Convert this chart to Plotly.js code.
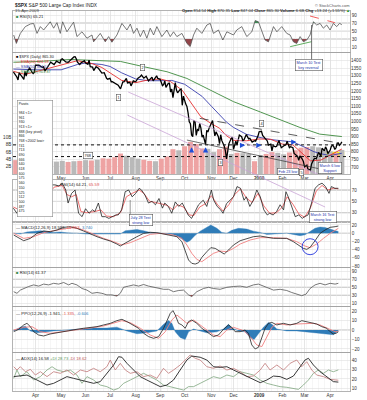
<!DOCTYPE html>
<html><head><meta charset="utf-8">
<script src="https://cdn.plot.ly/plotly-3.0.1.min.js"></script>
<style>html,body{margin:0;padding:0;background:#fff}#chart{width:367px;height:400px}</style>
</head><body><div id="chart"></div>
<script>
// ---------- DATA (x = trading-day index, 0 = 4-Mar-2008) ----------
const monthTicks = [19,41,62,83,105,126,147,170,189,211,231,250,272];
const monthLabels = ['Apr','May','Jun','Jul','Aug','Sep','Oct','Nov','Dec','<b>2009</b>','Feb','Mar','Apr'];

const spxClose = [[0,1326],[2,1304],[3,1293],[4,1273],[5,1320],[8,1288],[9,1276],[10,1330],[11,1299],[12,1330],[14,1352],[16,1325],[17,1316],[18,1323],[19,1370],[22,1370],[25,1355],[26,1360],[27,1332],[30,1365],[32,1390],[35,1375],[37,1397],[40,1385],[41,1409],[42,1413],[43,1407],[45,1392],[47,1389],[49,1404],[51,1423],[52,1425],[53,1426],[54,1413],[55,1390],[57,1375],[58,1385],[61,1400],[62,1385],[64,1377],[65,1404],[66,1361],[68,1358],[69,1335],[71,1360],[73,1350],[76,1318],[78,1321],[80,1284],[81,1278],[83,1284],[84,1261],[85,1262],[87,1252],[89,1245],[90,1239],[92,1214],[93,1246],[94,1261],[95,1261],[97,1283],[98,1253],[100,1257],[101,1234],[103,1267],[105,1261],[107,1285],[109,1296],[110,1305],[112,1285],[114,1298],[116,1267],[119,1292],[120,1267],[123,1300],[124,1283],[126,1277],[128,1236],[129,1242],[130,1267],[131,1224],[133,1251],[134,1252],[135,1193],[136,1213],[137,1157],[138,1207],[139,1255],[140,1207],[141,1188],[143,1209],[144,1213],[145,1106],[146,1166],[148,1114],[149,1099],[150,1056],[151,997],[152,985],[153,910],[154,899],[155,1003],[156,998],[157,908],[158,946],[159,941],[160,986],[161,955],[162,896],[163,909],[164,877],[165,848],[166,941],[167,930],[168,954],[169,969],[171,1006],[172,953],[173,905],[174,931],[176,899],[177,853],[178,912],[179,873],[181,838],[182,807],[183,752],[184,800],[185,852],[187,887],[188,896],[189,816],[191,870],[192,845],[193,876],[194,910],[196,899],[197,873],[198,879],[200,913],[202,885],[203,888],[205,863],[207,873],[208,870],[210,903],[211,932],[213,935],[214,907],[216,890],[218,871],[219,843],[221,850],[222,805],[223,840],[225,832],[226,836],[228,874],[229,845],[230,826],[232,838],[234,845],[235,869],[237,827],[238,833],[240,826],[241,789],[243,780],[244,770],[245,743],[246,773],[248,752],[249,735],[250,700],[252,712],[253,682],[254,683],[255,677],[256,720],[258,751],[259,757],[260,753],[261,778],[262,795],[263,784],[264,768],[265,823],[267,806],[268,832],[269,816],[270,788],[271,798],[272,811],[273,835],[274,843],[275,835],[276,815],[277,826],[278,857],[279,858],[280,842],[281,852],[282,865]];

const ema20 = [[0,1330],[10,1310],[23,1335],[40,1370],[55,1400],[68,1380],[76,1355],[83,1320],[93,1270],[105,1255],[115,1272],[126,1280],[135,1262],[145,1205],[151,1140],[156,1080],[161,1030],[170,985],[177,955],[183,905],[189,875],[200,872],[211,884],[221,882],[231,850],[240,845],[246,805],[250,775],[255,740],[264,745],[272,775],[282,818]];
const sma50 = [[0,1345],[19,1340],[41,1340],[55,1375],[62,1385],[76,1375],[83,1362],[93,1320],[105,1280],[116,1268],[126,1268],[136,1270],[147,1245],[155,1205],[162,1165],[170,1100],[177,1040],[183,995],[189,960],[200,915],[211,895],[221,880],[231,872],[240,865],[250,830],[258,800],[265,785],[272,775],[282,790]];
const sma200 = [[0,1390],[22,1395],[49,1408],[75,1402],[92,1395],[111,1362],[132,1327],[149,1283],[166,1217],[189,1130],[212,1062],[231,1005],[246,960],[263,916],[282,900]];

const volDay = [2,7,12,17,22,27,32,37,42,47,52,57,62,67,72,77,82,87,92,97,102,107,112,117,122,127,132,137,142,147,152,157,162,167,172,177,182,187,192,197,202,207,212,217,222,227,232,237,242,247,252,257,262,267,272,277,282];
const volBillions = [3.8,4.2,3.6,3.9,3.7,3.5,3.6,3.4,3.6,3.3,3.5,3.6,3.8,3.7,3.9,4.3,4.2,4.6,5.6,5.0,4.6,4.2,3.9,3.6,3.5,4.2,4.8,6.8,6.5,7.6,8.8,8.2,7.0,6.9,6.0,6.8,7.5,5.5,5.8,5.7,5.5,3.5,5.2,5.5,6.0,5.8,5.4,5.9,6.5,7.2,7.4,7.6,7.3,6.5,6.2,5.8,6.6];
const volDir = ['d','d','u','d','u','d','u','u','u','d','u','d','u','d','u','d','d','d','d','u','u','u','d','d','u','d','d','d','u','d','d','d','d','u','u','d','d','u','d','u','u','d','u','d','d','u','u','d','d','d','d','u','u','u','u','d','u'];

const rsiFast = [[0.3,40],[2.6,19],[6,44],[10.3,61],[14.6,67.5],[17.4,69],[20.3,44],[23.2,61],[26,52.5],[31.7,73],[34.6,57],[37.4,71],[40.3,44],[42.3,73],[46,48],[51.7,72],[54.6,36],[58.9,48],[63.2,32],[67.5,40],[68.9,23],[74.6,44],[78.9,23],[81.8,36],[84.6,22],[88.9,40],[93.2,69],[97.5,52.5],[100.4,67.5],[103.2,44],[106.1,57],[109,36],[111.8,52.5],[114.6,32],[117.5,57],[120.4,40],[123.2,61],[127.5,36],[131.8,52.5],[134.7,36],[137.5,48],[140.4,36],[144.7,44],[149,19],[151.8,11],[154.7,40],[157.5,57],[161.8,44],[166.1,65],[169,69],[171.8,44],[176.1,52.5],[179.8,27.5],[183.3,48],[189,40],[191.8,52.5],[196.1,61],[200.4,36],[204.7,48],[207.6,76],[210.4,73],[213.3,48],[216.1,27.5],[219,23],[223.3,61],[226.2,48],[230.4,61],[234.7,44],[237.6,40],[240.4,23],[243.3,19],[246.2,36],[249,23],[251.9,27.5],[254.7,40],[257.6,73],[260.4,65],[263.3,69],[266.1,57],[269,65],[271.9,52.5],[274.7,69],[277.6,61],[280,69],[282,66]];

const rsi14 = [[0,38],[3,29],[7,52],[12,58],[17,55],[23,52],[29,64],[33,79],[36,79],[39,77],[42,82],[45,70],[47,47],[50,64],[53,70],[56,29],[59,23],[62,37],[65,29],[68,35],[70,32],[73,47],[76,23],[79,23],[82,20],[85,23],[88,26],[90,26],[93,35],[96,67],[99,70],[102,58],[105,64],[108,73],[110,70],[113,61],[116,47],[119,50],[122,44],[125,55],[128,38],[130,47],[133,41],[136,29],[139,49],[142,41],[145,47],[148,35],[150,26],[153,20],[156,32],[159,44],[163,52],[166,41],[170,70],[172,52],[175,41],[178,35],[180,29],[183,46],[186,52],[189,58],[192,76],[195,73],[198,52],[200,58],[203,41],[206,52],[209,70],[212,58],[215,35],[218,26],[220,29],[223,26],[226,32],[229,44],[232,35],[234,67],[236,58],[239,41],[242,23],[245,26],[248,20],[250,23],[253,26],[256,47],[259,73],[262,79],[265,82],[268,76],[271,64],[273,76],[276,73],[279,73]];
const rsi14Avg = [[0,40],[5,35],[10,50],[20,55],[30,62],[35,75],[42,78],[46,62],[50,58],[54,62],[58,32],[63,30],[70,32],[75,35],[80,24],[86,23],[92,30],[97,58],[102,64],[108,70],[112,64],[117,50],[122,48],[127,45],[132,43],[137,35],[141,44],[146,40],[151,26],[155,25],[160,40],[165,46],[170,60],[175,45],[180,33],[185,44],[190,62],[195,72],[200,56],[205,48],[210,64],[215,42],[220,29],[226,30],[231,40],[235,58],[240,45],[245,28],[250,22],[255,38],[260,68],[265,78],[270,70],[275,73],[279,72]];

const macdLine = [[0.3,-4.4],[6,-12.6],[8.9,-18.3],[14.6,-12.6],[20.3,-0.4],[26,5.3],[31.7,3.7],[37.5,7.8],[43.2,14.3],[48.9,15.9],[54.6,11.8],[60.3,5.3],[66,-2],[71.8,-8.5],[77.5,-14.2],[83.2,-19.1],[88.9,-26.4],[91.8,-31.3],[94.6,-26.4],[100.4,-16.6],[106.1,-8.5],[111.8,-0.4],[117.5,2.1],[123.2,1.3],[128.9,-2],[134.7,-5.2],[140.4,-8.5],[144.7,-20.7],[147.5,-45.1],[150.4,-65.4],[153.2,-73.5],[156.1,-75.2],[159,-71.9],[161.8,-58.9],[166.1,-45.1],[169.5,-35.3],[173.3,-37],[177.5,-45.1],[181,-50.8],[184.7,-41],[189,-28.8],[194.7,-18.3],[200.4,-12.6],[206.1,-8.5],[211.9,-6.9],[217.6,-10.1],[223.3,-12.6],[229,-12.6],[234.7,-12.6],[240.4,-20.7],[244.7,-28.8],[249,-37],[251.9,-39.4],[254.7,-34.5],[259,-18.3],[263.3,-0.4],[267.6,7.8],[271.9,14.3],[276.2,15.9],[279,17.5]];
const macdSignal = [[0.3,-0.4],[8.9,-12.6],[17.4,-8.5],[26,1.3],[34.6,6.1],[43.2,11],[51.7,14.3],[60.3,7.8],[68.9,-2.8],[77.5,-12.6],[86.1,-20.7],[93.2,-28.8],[100.4,-23.1],[109,-12.6],[117.5,-2.8],[126.1,-0.4],[137.5,-4.4],[144.7,-12.6],[149,-28.8],[153.2,-49.1],[157.5,-63.8],[161.8,-69.5],[166.1,-61.3],[171.8,-49.1],[177.5,-43.5],[183.3,-45.1],[189,-37],[194.7,-26.4],[203.3,-16.6],[211.9,-10.9],[223.3,-10.9],[234.7,-12.6],[243.3,-20.7],[250.4,-31.3],[254.7,-35.3],[260.4,-26.4],[266.2,-12.6],[271.9,-0.4],[279,11.8]];
const macdHist = [[0.3,0],[6,-2],[11.7,3],[17.4,5],[23.2,6],[28.9,4],[34.6,2],[40.3,3],[46,1],[54.6,0],[63.2,-2],[74.6,-2],[86.1,-3],[91.8,-2],[96.1,6],[100.4,8],[106.1,9],[111.8,6],[117.5,2],[126.1,0],[134.7,-2],[140.4,-6],[144.7,-14],[149,-22],[151.8,-18],[156.1,-5],[160.4,5],[164.7,12],[169.5,20],[174.7,12],[179,2],[183.3,0],[187.5,7],[193.3,12],[200.4,10],[206.1,5],[211.9,2],[217.6,-3],[223.3,-2],[229,-1],[234.7,0],[240.4,-3],[246.2,-6],[250.4,-4],[254.7,3],[259,12],[263.3,15],[267.6,14],[271.9,10],[276.2,7],[279,4]];

const rsiLower = [[0.3,39],[3.1,35],[6,43],[8.9,47],[13.1,52],[17.4,56],[21.7,53],[26,58],[30.3,56],[34.6,60],[38.9,58],[43.2,62],[47.5,56],[50.3,60],[54.6,56],[58.9,47],[63.2,43],[67.5,35],[71.8,37],[76,35],[80.3,31],[84.6,31],[88.9,28],[91.8,35],[94.6,50],[98.9,53],[103.2,56],[107.5,53],[111.8,57],[116.1,53],[120.4,50],[124.7,47],[129,45],[133.2,45],[137.5,39],[141.8,42],[146.1,43],[150.4,31],[153.2,27],[157.5,39],[163.2,47],[167.5,50],[171.8,47],[177.5,45],[183.3,50],[189,52],[194.7,53],[200.4,50],[206.1,56],[210.4,58],[214.7,53],[219,47],[223.3,43],[229,45],[234.7,42],[239,37],[243.3,33],[247.6,29],[251.3,33],[254.7,47],[259,56],[263.3,60],[267.6,56],[271.9,60],[276.2,58],[279,60]];

const ppoLine = [[0.3,-1.8],[4.6,0.7],[8.9,5.3],[11.7,7],[14.6,3.5],[17.4,-1.8],[21.7,-5.3],[26,-6.3],[31.7,-4.2],[37.5,-2.8],[43.2,-1.8],[48.9,0],[54.6,0.7],[60.3,1.8],[66,2.8],[71.8,3.5],[77.5,5.3],[83.2,7],[88.9,9.8],[93.2,11.2],[97.5,8.8],[103.2,5.3],[107.5,1.8],[111.8,-3.5],[116.1,-7],[120.4,-8.8],[124.7,-7],[129,1.8],[131.8,10.5],[134.7,17.5],[137,20.4],[139,15.8],[141.8,7],[144.7,5.3],[147.5,1.8],[150.4,8.8],[153.2,10.5],[157.5,7],[161.8,1.8],[166.1,-1.8],[171.8,-7],[176.1,-5.3],[180.4,0.7],[184.7,5.3],[187.5,2.8],[190.4,-1.8],[194.7,-1.8],[199,0],[201.8,-3.5],[204.7,-15.8],[207.6,-20],[210.4,-18.2],[213.3,-8.8],[216.1,1.8],[219,7],[221.9,8],[226.2,5.3],[231.9,7],[237.6,5.3],[243.3,7],[247.6,9.8],[251.9,8.8],[256.2,7],[260.4,6.3],[264.7,3.5],[269,1.8],[271.9,-1.8],[274.7,-4.2],[277,-3.5],[279,-1.9]];
const ppoSignal = [[0.3,0],[8.9,2.8],[16,3.5],[23.2,-1.8],[31.7,-3.5],[43.2,-1.8],[54.6,0],[66,2.1],[77.5,4.2],[86.1,7.7],[93.2,9.8],[100.4,7.7],[109,1.8],[117.5,-5.3],[124.7,-8.8],[130.4,-1.8],[136.1,10.5],[140.4,15.8],[144.7,11.2],[149,7],[154.7,10.5],[160.4,5.3],[166.1,0],[171.8,-5.3],[177.5,-7],[183.3,0],[189,2.8],[197.6,-0.7],[203.3,-7],[209,-15.8],[213.3,-17.5],[217.6,-7],[221.9,2.8],[226.2,7],[234.7,5.3],[243.3,6.3],[250.4,7],[257.6,7],[263.3,5.3],[270.5,1.8],[276.2,-1.8],[279,-1.3]];
const ppoHist = [[0.3,-1],[6,3],[10.3,4],[14.6,-1],[20.3,-3],[26,-2],[34.6,-1],[46,0],[57.5,1],[68.9,2],[80.3,2],[88.9,3],[97.5,-1],[106.1,-4],[114.6,-3],[123.2,-1],[129,6],[133.2,10],[136.1,7],[139,-2],[143.2,-8],[147.5,-10],[150.4,-2],[154.7,1],[160.4,-1],[166.1,-3],[174.7,-2],[180.4,1],[184.7,6],[187.5,2],[193.3,-1],[199,-2],[203.3,-8],[206.7,-10],[210.4,-4],[214.7,3],[219,8],[221.9,6],[226.2,1],[234.7,-1],[243.3,-1],[251.9,-2],[260.4,-3],[269,-4],[274.7,-5],[277.6,-2],[279,-0.6]];

const adx = [[0.3,22.4],[6,23.1],[11.7,24.1],[17.4,20.6],[23.2,17.1],[28.9,13.5],[34.6,15.3],[40.3,18.8],[46,22.4],[51.7,20.6],[57.5,18.8],[63.2,17.1],[68.9,15.3],[74.6,17.1],[80.3,25.9],[86.1,34.7],[90.3,43.5],[93.2,42.9],[97.5,36.5],[103.2,29.4],[108.9,22.4],[114.6,18.8],[120.4,15.3],[126.1,11.8],[131.8,13.5],[137.5,18.8],[143.2,29.4],[149,40],[153.2,44.2],[157.5,43.5],[160.4,42.9],[166.1,40],[171.8,32.9],[177.5,32.2],[183.3,32.9],[189,29.4],[194.7,25.9],[200.4,22.4],[206.1,18.8],[211.9,16],[217.6,18.8],[223.3,23],[229,22.4],[234.7,19.5],[240.4,23],[246.2,32.9],[250.4,40],[253.3,41.8],[257.6,34.7],[263.3,27.6],[269,22.4],[274.7,17.1],[279,16.6]];
const minusDI = [[0.3,32.9],[3.1,29.4],[6,32.9],[10.3,27.6],[14.6,30.1],[18.9,24.1],[23.2,27.6],[28.9,22.4],[34.6,27.6],[40.3,25.9],[46,29.4],[51.7,24.1],[57.5,29.4],[63.2,27.6],[68.9,31.2],[74.6,27.6],[80.3,32.9],[83.2,40],[87.5,29.4],[91.8,36.5],[96.1,29.4],[100.4,25.9],[106.1,27.6],[111.8,22.4],[117.5,24.1],[123.2,20.6],[128.9,31.2],[133.2,25.9],[137.5,29.4],[143.2,34.7],[147.5,40],[151.8,45.3],[156.1,41.8],[160.4,40],[166.1,32.9],[171.8,31.2],[177.5,33.6],[183.3,29.4],[189,31.2],[194.7,27.6],[200.4,22.4],[206.1,23.1],[211.9,29.4],[216.1,36.5],[220.4,29.4],[226.2,34.7],[231.9,29.4],[237.6,36.5],[243.3,40],[247.6,32.9],[251.9,38.2],[256.2,29.4],[260.4,24.1],[266.2,22.4],[271.9,19.5],[276.2,18.8],[279,18.6]];
const plusDI = [[0.3,20.6],[3.1,29.4],[6,22.4],[11.7,27.6],[17.4,18.8],[23.2,22.4],[28.9,29.4],[33.2,32.9],[37.5,29.4],[43.2,27.6],[48.9,29.4],[54.6,24.1],[58.9,15.3],[63.2,22.4],[68.9,18.8],[74.6,13.5],[80.3,11.8],[86.1,8.2],[90.3,10],[94.6,15.3],[100.4,18.8],[106.1,22.4],[111.8,25.9],[117.5,22.4],[123.2,18.8],[128.9,13.5],[134.7,11.8],[140.4,10],[146.1,8.2],[150.4,11.8],[154.7,11.8],[160.4,15.3],[166.1,18.8],[171.8,22.4],[177.5,20.6],[183.3,24.1],[189,22.4],[194.7,27.6],[200.4,25.9],[206.1,24.1],[211.9,18.8],[217.6,15.3],[223.3,13.5],[229,11.8],[234.7,11.1],[240.4,10],[244.7,8.9],[249,13.5],[253.3,18.8],[257.6,25.9],[261.9,29.4],[266.2,25.9],[270.5,29.4],[274.7,27.6],[279,29.5]];

const fibLevels = ['Pivots','','984 &lt;1&gt;','961','930','913 &lt;1&gt;','888 (key pivot)','866','768 &lt;2002 low&gt;','741','713','690','666','640','618','600','575','560','550','525','512','500','487','475'];
const keyLevels = [845, 768];

// ---------- HELPERS ----------
const X = a => a.map(p => p[0]);
const Y = a => a.map(p => p[1]);
const FONT = 'Liberation Sans, Arial, sans-serif';
function ln(a, xa, ya, color, w) {
  return {type:'scatter', mode:'lines', x:X(a), y:Y(a), xaxis:xa, yaxis:ya, line:{color:color, width:w}, hoverinfo:'skip'};
}
function area(a, xa, ya, color) {
  return {type:'scatter', mode:'lines', x:X(a), y:Y(a), xaxis:xa, yaxis:ya, fill:'tozeroy', fillcolor:color, line:{color:color, width:0.4}, hoverinfo:'skip'};
}
function clipPoly(a, thr, above) {
  const xs = [], ys = [];
  for (let i = 0; i < a.length; i++) {
    if (i > 0) {
      const p = a[i-1][1]-thr, q = a[i][1]-thr;
      if (p*q < 0) { const t = p/(p-q); xs.push(a[i-1][0] + t*(a[i][0]-a[i-1][0])); ys.push(thr); }
    }
    xs.push(a[i][0]); ys.push(above ? Math.max(a[i][1], thr) : Math.min(a[i][1], thr));
  }
  xs.push(xs[xs.length-1], xs[0]); ys.push(thr, thr);
  return {xs, ys};
}
function zone(a, xa, ya, thr, above, color) {
  const c = clipPoly(a, thr, above);
  return {type:'scatter', mode:'lines', x:c.xs, y:c.ys, xaxis:xa, yaxis:ya, fill:'toself', fillcolor:color, line:{width:0}, hoverinfo:'skip'};
}
const PX = px => (px - 13) / 337;
const PY = py => 1 - py / 400;

// ---------- TRACES ----------
const traces = [];
traces.push(zone(rsiFast, 'x', 'y', 70, true, '#3d8f55'));
traces.push(zone(rsiFast, 'x', 'y', 30, false, '#93454a'));
traces.push(ln(rsiFast, 'x', 'y', '#555', 0.8));
traces.push({type:'bar', x:volDay, y:volBillions, xaxis:'x2', yaxis:'y2', width:4.3,
  marker:{color:volDir.map(d => d === 'd' ? '#eea3a3' : '#b9b9b9'), line:{width:0}}, hoverinfo:'skip'});
traces.push(ln(sma200, 'x2', 'y9', '#3d8a3d', 0.9));
traces.push(ln(sma50, 'x2', 'y9', '#3a3fae', 0.9));
traces.push(ln(ema20, 'x2', 'y9', '#e53030', 0.9));
traces.push(ln(spxClose, 'x2', 'y9', '#000', 1.3));
traces.push(ln(rsi14Avg, 'x3', 'y3', '#ef6f6f', 1));
traces.push(ln(rsi14, 'x3', 'y3', '#222', 0.8));
traces.push(area(macdHist, 'x4', 'y4', '#2f7cb8'));
traces.push(ln(macdSignal, 'x4', 'y4', '#f08080', 0.9));
traces.push(ln(macdLine, 'x4', 'y4', '#222', 0.8));
traces.push(zone(rsiLower, 'x5', 'y5', 30, false, '#8b1a1a'));
traces.push(ln(rsiLower, 'x5', 'y5', '#555', 0.8));
traces.push(area(ppoHist, 'x6', 'y6', '#2f7cb8'));
traces.push(ln(ppoSignal, 'x6', 'y6', '#f08080', 0.9));
traces.push(ln(ppoLine, 'x6', 'y6', '#222', 0.8));
traces.push(ln(plusDI, 'x7', 'y7', '#7fa67f', 0.8));
traces.push(ln(minusDI, 'x7', 'y7', '#c07878', 0.8));
traces.push(ln(adx, 'x7', 'y7', '#222', 0.9));

// ---------- LAYOUT ----------
const xBase = () => ({range:[-0.3,289], showline:true, mirror:true, linecolor:'#a0a0a0', linewidth:0.8,
  tickmode:'array', tickvals:monthTicks, ticktext:monthLabels, showticklabels:false, ticks:'',
  gridcolor:'#d6d6d6', gridwidth:0.6, zeroline:false, fixedrange:true,
  tickfont:{size:4.6, color:'#333', family:FONT},
  minor:{tickmode:'linear', tick0:2, dtick:5, showgrid:true, gridcolor:'#eeeeee', gridwidth:0.5, ticks:''}});
const yBase = (dom, range, tv) => ({domain:dom, range:range, side:'right', showline:true, mirror:true,
  linecolor:'#a0a0a0', linewidth:0.8, ticks:'', tickmode:'array', tickvals:tv, gridcolor:'#e0e0e0', gridwidth:0.6,
  zeroline:false, fixedrange:true, tickfont:{size:4.6, color:'#333', family:FONT}});

const layout = {
  width:367, height:400, margin:{l:13, r:17, t:0, b:0}, showlegend:false,
  paper_bgcolor:'#fff', plot_bgcolor:'#fff', font:{family:FONT, size:5, color:'#222'},
  xaxis: Object.assign(xBase(), {anchor:'y'}),
  xaxis2: Object.assign(xBase(), {anchor:'y2', showticklabels:true}),
  xaxis3: Object.assign(xBase(), {anchor:'y3'}),
  xaxis4: Object.assign(xBase(), {anchor:'y4'}),
  xaxis5: Object.assign(xBase(), {anchor:'y5'}),
  xaxis6: Object.assign(xBase(), {anchor:'y6'}),
  xaxis7: Object.assign(xBase(), {anchor:'y7', showticklabels:true}),
  yaxis: Object.assign(yBase([0.87,0.9725], [-2.5,100], [10,30,50,70,90]), {anchor:'x'}),
  yaxis2: Object.assign(yBase([0.565,0.8675], [0,33.15], [2,4,6,8,10]), {anchor:'x2', side:'left', showgrid:false,
    ticktext:['2B','4B','6B','8B','10B']}),
  yaxis9: Object.assign(yBase([0.565,0.8675], [653.1,1450.8], [700,750,800,850,900,950,1000,1050,1100,1150,1200,1250,1300,1350,1400]),
    {overlaying:'y2', anchor:'x2', showline:false}),
  yaxis3: Object.assign(yBase([0.445,0.55], [13.6,87.6], [30,50,70]), {anchor:'x3'}),
  yaxis4: Object.assign(yBase([0.3325,0.445], [-82.4,27.3], [-80,-60,-40,-20,0,20]), {anchor:'x4'}),
  yaxis5: Object.assign(yBase([0.235,0.33], [3.25,98.25], [10,30,50,70,90]), {anchor:'x5'}),
  yaxis6: Object.assign(yBase([0.12,0.2325], [-23.2,24.2], [-20,-10,0,10,20]), {anchor:'x6'}),
  yaxis7: Object.assign(yBase([0.0225,0.1175], [7.2,47.4], [10,20,30,40]), {anchor:'x7'}),
  shapes: [], annotations: []
};

const hl = (ya, v, color, w, dash) => ({type:'line', xref:'paper', x0:0, x1:1, yref:ya, y0:v, y1:v, line:{color:color, width:w, dash:dash||'solid'}, layer:'below'});
layout.shapes.push(hl('y',70,'#a8a8a8',0.7), hl('y',30,'#a8a8a8',0.7), hl('y',50,'#c8c8c8',0.6));
layout.shapes.push(hl('y3',70,'#8a8a8a',0.7), hl('y3',30,'#8a8a8a',0.7), hl('y3',50,'#bdbdbd',0.6));
layout.shapes.push(hl('y4',0,'#999',0.6), hl('y6',0,'#999',0.6));
layout.shapes.push(hl('y5',70,'#8a8a8a',0.7), hl('y5',30,'#8a8a8a',0.7), hl('y5',50,'#8a8a8a',0.7));
keyLevels.forEach(v => layout.shapes.push({type:'line', xref:'paper', x0:0, x1:1, yref:'y9', y0:v, y1:v, line:{color:'#111', width:1, dash:'dot'}}));
layout.shapes.push({type:'rect', xref:'x2', yref:'y9', x0:263, x1:284, y0:765, y1:800, fillcolor:'#ffff00', line:{width:0}, layer:'below'});
layout.shapes.push({type:'line', xref:'x2', yref:'paper', x0:98.6, y0:PY(92), x1:261, y1:PY(174), line:{color:'#c9a3d6', width:0.8}});
layout.shapes.push({type:'line', xref:'x2', yref:'paper', x0:97.8, y0:PY(115), x1:267.6, y1:PY(207), line:{color:'#c9a3d6', width:0.8}});
layout.shapes.push({type:'line', xref:'x2', yref:'y9', x0:160, y0:1020, x1:281, y1:855, line:{color:'#333', width:0.8, dash:'dash'}});
layout.shapes.push({type:'line', xref:'x2', yref:'y9', x0:149, y0:877, x1:282, y1:655, line:{color:'#333', width:0.7}});
layout.shapes.push({type:'line', xref:'x', yref:'y', x0:254.7, y0:87.5, x1:276, y1:70.8, line:{color:'#e33', width:0.8, dash:'dash'}});
layout.shapes.push({type:'line', xref:'x', yref:'y', x0:237.6, y0:10.8, x1:256, y1:23.3, line:{color:'#3a9a3a', width:0.8}});
layout.shapes.push({type:'line', xref:'x2', yref:'paper', x0:256, x1:256, y0:PY(25), y1:PY(61), line:{color:'#555', width:0.8}});
layout.shapes.push({type:'line', xref:'x3', yref:'paper', x0:100.3, x1:100.3, y0:PY(200), y1:PY(216), line:{color:'#555', width:0.6}});
layout.shapes.push({type:'circle', xref:'x4', yref:'y4', x0:247.9, x1:261.6, y0:-52.4, y1:-13.4, line:{color:'#2233dd', width:0.9}});

const A = layout.annotations;
const txt = (text, x, y, o) => A.push(Object.assign({xref:'paper', yref:'paper', x:x, y:y, text:text, showarrow:false,
  xanchor:'left', yanchor:'top', align:'left', font:{size:4.2, color:'#222', family:FONT}}, o||{}));
txt('<b>$SPX</b> S&P 500 Large Cap Index INDX', PX(13), PY(1), {font:{size:4.8, color:'#222', family:FONT}});
txt('15-Apr-2009', PX(13), PY(6.3), {font:{size:4.3, color:'#444', family:FONT}});
txt('© StockCharts.com', PX(352), PY(1), {xanchor:'right', font:{size:4, color:'#555', family:FONT}});
txt('<b>Open</b> 854.54 <b>High</b> 870.35 <b>Low</b> 847.04 <b>Close</b> 865.30 <b>Volume</b> 6.6B <b>Chg</b> +13.24 (+1.55%) <span style="color:#2a9a2a">▲</span>',
  PX(352), PY(5.5), {xanchor:'right', font:{size:4.1, color:'#222', family:FONT}});
txt('<span style="color:#3d8f55">■</span> RSI(5) 65.21', PX(14), PY(11.5));
txt('<span style="color:#000">■</span> $SPX (Daily) 865.30<br><span style="color:#e53030">— EMA(20) 824.18</span><br><span style="color:#3a3fae">— SMA(50) 804.57</span><br><span style="color:#3d8a3d">— SMA(200) 901.87</span>',
  PX(14), PY(53), {font:{size:3.8, color:'#222', family:FONT}});
txt('— RSI(14) 64.21, <span style="color:#e05050">65.59</span>', PX(53), PY(180.5));
txt('— MACD(12,26,9) 18.593, <span style="color:#e05050">14.853</span>, <span style="color:#2f7cb8">3.740</span>', PX(14), PY(222.5));
txt('<span style="color:#3d8f55">■</span> RSI(14) 61.37', PX(14), PY(267.8));
txt('— PPO(12,26,9) -1.941, <span style="color:#e05050">-1.335</span>, <span style="color:#2f7cb8">-0.606</span>', PX(14), PY(308.5));
txt('— ADX(14) 16.58 <span style="color:#5e9a5e">+DI 28.73</span> <span style="color:#c05a5a">-DI 18.62</span>', PX(14), PY(353.5));
A.push({xref:'paper', yref:'paper', x:PX(17), y:PY(99.5), xanchor:'left', yanchor:'top', showarrow:false, align:'left', valign:'top',
  text:fibLevels.join('<br>'), width:33, height:114, bgcolor:'#fff', bordercolor:'#8a8a8a', borderwidth:0.6, borderpad:1,
  font:{size:3.6, color:'#222', family:FONT}});
const box = (text, x, y, xr, yr, col) => A.push({xref:xr, yref:yr, x:x, y:y, text:text, showarrow:false, bgcolor:'#fff',
  bordercolor:'#555', borderwidth:0.6, borderpad:1, font:{size:3.8, color:col||'#222', family:FONT}});
box('1', 90, 1160, 'x2', 'y9');
box('2', 111, 1358, 'x2', 'y9');
box('3', 178, 726, 'x2', 'y9');
box('4', 213, 983, 'x2', 'y9');
box('5', 247, 660, 'x2', 'y9');
box('768', 64, 772, 'x2', 'y9');
box('Feb 23 low', 236, 667, 'x2', 'y9', '#2233aa');
box('March 10 Test<br>key reversal', 254, 1370, 'x2', 'y9', '#2233aa');
box('March 6 low<br>Support', 272, 692, 'x2', 'y9', '#2233aa');
box('July 28 Test<br>strong low', 110, 17.5, 'x3', 'y3', '#2233aa');
box('March 16 Test<br>strong low', 266, 23, 'x3', 'y3', '#2233aa');
const arrow = (x, y, ax, ay) => A.push({xref:'x2', yref:'y9', x:x, y:y, ax:ax, ay:ay, text:'', showarrow:true,
  arrowhead:2, arrowsize:0.7, arrowwidth:1.5, arrowcolor:'#1f4fd8'});
arrow(153, 830, 0, 5); arrow(165, 830, 0, 5);
arrow(199, 842, -4, 0); arrow(213, 842, -4, 0); arrow(243, 864, -4, 0);

Plotly.newPlot('chart', traces, layout, {staticPlot:true, displayModeBar:false});
</script></body></html>
